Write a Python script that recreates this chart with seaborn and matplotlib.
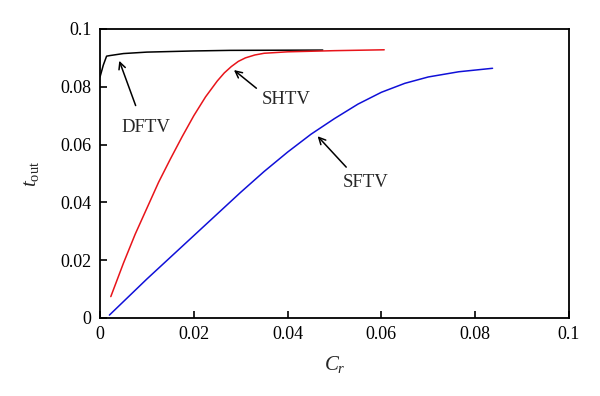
import pandas as pd
import matplotlib
matplotlib.use('Agg')
import matplotlib.pyplot as plt
import seaborn as sns

sns.set_theme(style='ticks')
plt.rcParams['font.family'] = ['Liberation Serif', 'DejaVu Serif']
plt.rcParams['mathtext.fontset'] = 'custom'
plt.rcParams['mathtext.rm'] = 'Liberation Serif'
plt.rcParams['mathtext.it'] = 'Liberation Serif:italic'

# curves
dftv_x = [0.0, 0.0007, 0.0014, 0.0021, 0.005, 0.01, 0.02, 0.0277, 0.0475]
dftv_y = [0.0834, 0.0875, 0.0906, 0.0908, 0.0915, 0.0920, 0.0924, 0.0926, 0.0927]

shtv_x = [0.0023, 0.005, 0.0075, 0.01, 0.0125, 0.015, 0.0175, 0.02, 0.0225, 0.025,
          0.0265, 0.028, 0.0295, 0.031, 0.033, 0.035, 0.04, 0.05, 0.0606]
shtv_y = [0.0074, 0.019, 0.029, 0.038, 0.047, 0.055, 0.0627, 0.070, 0.0765, 0.0820,
          0.0848, 0.0870, 0.0888, 0.0900, 0.0910, 0.0916, 0.0921, 0.0925, 0.0928]

sftv_x = [0.002, 0.01, 0.02, 0.03, 0.035, 0.04, 0.045, 0.05, 0.055, 0.06,
          0.065, 0.07, 0.0765, 0.0837]
sftv_y = [0.001, 0.0135, 0.0285, 0.0435, 0.0507, 0.0574, 0.0636, 0.0690, 0.0740, 0.0781,
          0.0812, 0.0834, 0.0852, 0.0864]

colors = {'DFTV': 'black', 'SHTV': '#e8141a', 'SFTV': '#1010d8'}

df = pd.concat([
    pd.DataFrame({'Cr': dftv_x, 't': dftv_y, 'curve': 'DFTV'}),
    pd.DataFrame({'Cr': shtv_x, 't': shtv_y, 'curve': 'SHTV'}),
    pd.DataFrame({'Cr': sftv_x, 't': sftv_y, 'curve': 'SFTV'}),
])

fig = plt.figure(figsize=(6, 3.96), dpi=100)
ax = fig.add_axes([0.1667, 0.197, 0.7816, 0.7298])
sns.lineplot(data=df, x='Cr', y='t', hue='curve', palette=colors, sort=False,
             estimator=None, linewidth=1.1, legend=False, ax=ax)

ticks = [0, 0.02, 0.04, 0.06, 0.08, 0.1]
tick_labels = ['0', '0.02', '0.04', '0.06', '0.08', '0.1']
ax.set_xlim(0, 0.1)
ax.set_ylim(0, 0.1)
ax.set_xticks(ticks)
ax.set_xticklabels(tick_labels)
ax.set_yticks(ticks)
ax.set_yticklabels(tick_labels)
ax.tick_params(direction='in', length=5, width=1.2, labelsize=13, colors='black', pad=6)
ax.tick_params(top=False, right=False)
for s in ax.spines.values():
    s.set_visible(True)
    s.set_linewidth(1.3)
    s.set_color('black')

ax.set_xlabel(r'$C_r$', fontsize=15, labelpad=8)
ax.set_ylabel(r'$t_{\mathrm{out}}$', fontsize=15, labelpad=14)

# annotations (text position, arrow tip, arrow tail)
notes = [('DFTV', (0.0098, 0.066), (0.0039, 0.0899), (0.0078, 0.0726)),
         ('SHTV', (0.0398, 0.0756), (0.0281, 0.0864), (0.0338, 0.0789)),
         ('SFTV', (0.0567, 0.0469), (0.046, 0.0636), (0.0529, 0.0515))]
for name, txt, tip, tail in notes:
    ax.text(txt[0], txt[1], name, fontsize=13.5, ha='center', va='center')
    ax.annotate('', xy=tip, xytext=tail,
                arrowprops=dict(arrowstyle='->', color='black', lw=1.1))

fig.savefig('out.png', dpi=100)
